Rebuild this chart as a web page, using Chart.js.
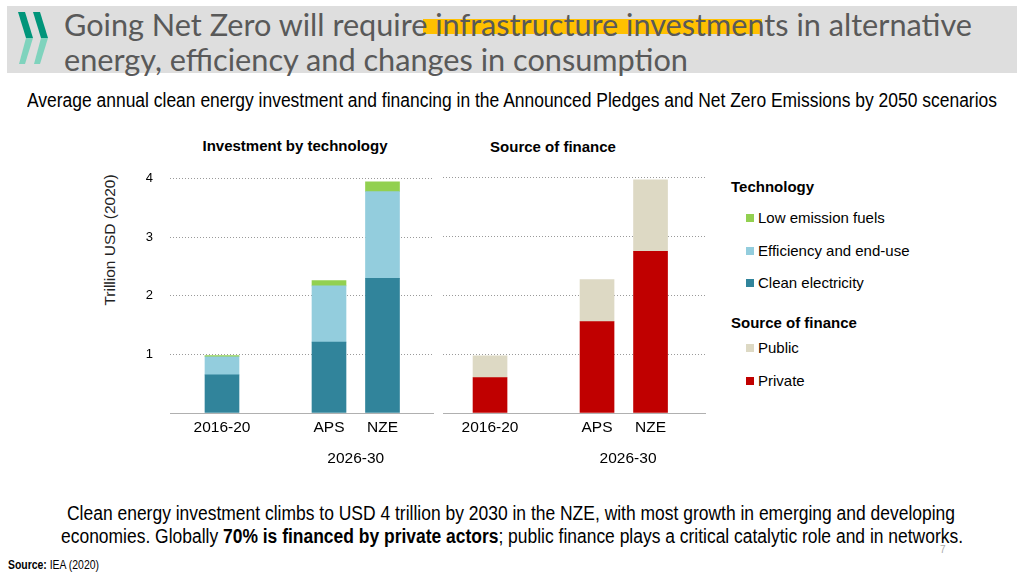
<!DOCTYPE html>
<html>
<head>
<meta charset="utf-8">
<script src="https://cdn.jsdelivr.net/npm/chart.js@4.4.1/dist/chart.umd.min.js"></script>
<style>
  body { margin: 0; width: 1024px; height: 576px; position: relative; overflow: hidden; background: #fff;
         font-family: 'Liberation Sans', Arial, sans-serif; color: #000; }
  .abs { position: absolute; white-space: nowrap; }
  .fit { transform-origin: 0 50%; display: inline-block; }
  #header { left: 7px; top: 6px; width: 1010px; height: 67px; background: #dedede; }
  #mark { left: 423px; top: 19px; width: 339px; height: 15px; background: #ffc000; }
  .title { left: 64px; font-family: Lato, 'Open Sans', sans-serif; font-size: 30px; line-height: 30px; color: #595959; }
  .sub { font-size: 20px; line-height: 20px; }
  .panel { font-weight: bold; font-size: 15px; line-height: 15px; transform: translateX(-50%); }
  #ytitle { left: 110px; top: 240px; font-size: 15.5px; color: #222; transform: translate(-50%, -50%) rotate(-90deg); }
  canvas { position: absolute; }
  .lg-head { left: 731px; font-weight: bold; font-size: 15px; line-height: 15px; }
  .lg-item { left: 746px; font-size: 15px; line-height: 15px; }
  .lg-item i { display: inline-block; width: 8px; height: 8px; margin-right: 4px; vertical-align: 1px; }
</style>
</head>
<body>
<div id="header" class="abs"></div>
<svg class="abs" style="left:0;top:0" width="60" height="72">
  <polygon points="18,12 25,12 33,38 26,38" fill="#00957a"/>
  <polygon points="26,38 33,38 25,64 19,64" fill="#7fd3bd"/>
  <polygon points="33,12 40,12 48,38 41,38" fill="#00957a"/>
  <polygon points="41,38 48,38 40,64 34,64" fill="#7fd3bd"/>
</svg>
<div id="mark" class="abs"></div>
<div class="abs title" style="top:9px"><span class="fit" data-w="908">Going Net Zero will require infrastructure investments in alternative</span></div>
<div class="abs title" style="top:44px"><span class="fit" data-w="624">energy, efficiency and changes in consumption</span></div>
<div class="abs sub" style="left:27px;top:90px"><span class="fit" data-w="970">Average annual clean energy investment and financing in the Announced Pledges and Net Zero Emissions by 2050 scenarios</span></div>

<div class="abs panel" style="left:295px;top:138px">Investment by technology</div>
<div class="abs panel" style="left:553px;top:139px">Source of finance</div>
<div id="ytitle" class="abs">Trillion USD (2020)</div>

<canvas id="techChart" width="325" height="316" style="left:120px;top:154px"></canvas>
<canvas id="financeChart" width="280" height="310" style="left:438px;top:160px"></canvas>

<div id="legend"></div>

<div class="abs sub" style="left:67px;top:503px"><span class="fit" data-w="888">Clean energy investment climbs to USD 4 trillion by 2030 in the NZE, with most growth in emerging and developing</span></div>
<div class="abs sub" style="left:61px;top:526px"><span class="fit" data-w="902">economies. Globally <b>70% is financed by private actors</b>; public finance plays a critical catalytic role and in networks.</span></div>
<div class="abs" style="left:940px;top:544px;font-size:10px;color:#aaa">7</div>
<div class="abs" style="left:8px;top:559px;font-size:12px;line-height:12px"><span class="fit" data-w="91"><b>Source:</b> IEA (2020)</span></div>

<script>
// Data (trillion USD 2020, average annual)
const periods = ['2016-20', 'APS', 'NZE'];
const scenarioPeriod = '2026-30';

const techSeries = ['Clean electricity', 'Efficiency and end-use', 'Low emission fuels'];
const cleanElectricity = [0.65, 1.21, 2.30];
const efficiencyEndUse = [0.31, 0.96, 1.48];
const lowEmissionFuels = [0.02, 0.09, 0.17];

const financeSeries = ['Private', 'Public'];
const privateFinance = [0.60, 1.55, 2.74];
const publicFinance = [0.37, 0.71, 1.21];

const yTicks = [0, 1, 2, 3, 4];

// Colours
const techColors = ['#31849b', '#93cddd', '#92d050'];
const financeColors = ['#c00000', '#ddd9c4'];

// Layout: slot of each period on the x axis (gap between 2016-20 and 2026-30)
const slots = [1, 3, 4];

const font = { family: "'Liberation Sans', Arial, sans-serif" };

function makeDatasets(names, values, colors) {
  return names.map((name, i) => ({
    label: name,
    data: values[i].map((v, j) => ({ x: slots[j], y: v })),
    backgroundColor: colors[i],
    borderWidth: 0,
    barThickness: 34,
  }));
}

function makeOptions(xMin, xMax, groupSlot, showY, yWidth, padTop, padRight) {
  return {
    responsive: false,
    animation: false,
    layout: { padding: { top: padTop, right: padRight, left: 0, bottom: 0 } },
    plugins: { legend: { display: false }, tooltip: { enabled: false } },
    scales: {
      x: {
        type: 'linear', min: xMin, max: xMax, stacked: true, offset: false,
        grid: { display: false, drawTicks: false },
        border: { display: true, color: '#b0b0b0', width: 1 },
        afterBuildTicks: axis => { axis.ticks = slots.map(v => ({ value: v })); },
        afterFit: axis => { axis.height = 26; },
        ticks: {
          autoSkip: false, maxRotation: 0, padding: 5, color: '#000',
          font: { ...font, size: 15.5 },
          callback: (value, i) => periods[i],
        },
      },
      x2: {
        type: 'linear', position: 'bottom', min: xMin, max: xMax, offset: false,
        grid: { display: false, drawTicks: false },
        border: { display: false },
        afterBuildTicks: axis => { axis.ticks = [{ value: groupSlot }]; },
        afterFit: axis => { axis.height = 31; },
        ticks: {
          autoSkip: false, maxRotation: 0, padding: 10, color: '#000',
          font: { ...font, size: 15.5 },
          callback: () => scenarioPeriod,
        },
      },
      y: {
        stacked: true, min: 0, max: 4,
        afterBuildTicks: axis => { axis.ticks = yTicks.map(v => ({ value: v })); },
        afterFit: axis => { axis.width = yWidth; },
        grid: {
          drawTicks: false,
          color: ctx => (ctx.tick && ctx.tick.value === 0) ? 'rgba(0,0,0,0)' : '#9a9a9a',
          lineWidth: 1,
        },
        border: { display: false, dash: [1, 2] },
        ticks: {
          display: showY, padding: 17, color: '#000',
          font: { ...font, size: 13 },
          callback: v => v === 0 ? '' : v,
        },
      },
    },
  };
}

new Chart(document.getElementById('techChart'), {
  type: 'bar',
  data: {
    datasets: makeDatasets(techSeries, [cleanElectricity, efficiencyEndUse, lowEmissionFuels], techColors),
  },
  options: makeOptions(0.028, 4.944, 3.5, true, 50, 12, 12),
});

new Chart(document.getElementById('financeChart'), {
  type: 'bar',
  data: {
    datasets: makeDatasets(financeSeries, [privateFinance, publicFinance], financeColors),
  },
  options: makeOptions(0.121, 5.018, 3.58, false, 5, 17, 13),
});

// Legend (top to bottom = top of stack first)
const legend = document.getElementById('legend');
function addLegend(head, headTop, names, colors, firstTop, step) {
  let html = '<div class="abs lg-head" style="top:' + headTop + 'px">' + head + '</div>';
  names.slice().reverse().forEach((name, i) => {
    const color = colors[names.length - 1 - i];
    html += '<div class="abs lg-item" style="top:' + (firstTop + i * step) + 'px"><i style="background:' + color + '"></i>' + name + '</div>';
  });
  legend.insertAdjacentHTML('beforeend', html);
}
addLegend('Technology', 179, techSeries, techColors, 210, 32.5);
addLegend('Source of finance', 315, financeSeries, financeColors, 340, 33);

// Squeeze text to the widths of the narrow fonts in the original
document.querySelectorAll('.fit').forEach(el => {
  const w = el.getBoundingClientRect().width;
  el.style.transform = 'scaleX(' + (Number(el.dataset.w) / w) + ')';
});
</script>
</body>
</html>
